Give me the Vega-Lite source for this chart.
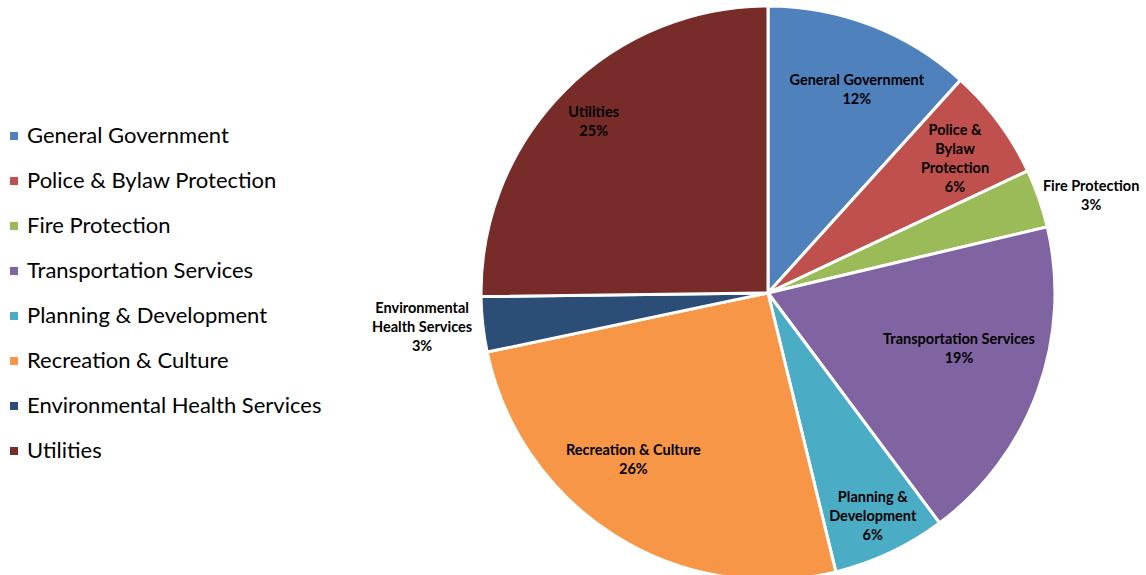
{
  "$schema": "https://vega.github.io/schema/vega-lite/v6.json",
  "width": 1146,
  "height": 575,
  "autosize": "none",
  "padding": 0,
  "background": "white",
  "config": {"view": {"stroke": null}, "text": {"font": "Lato", "fontWeight": "bold", "fontSize": 14.5, "lineBreak": "\n", "lineHeight": 19, "align": "center", "baseline": "middle", "color": "#000000"}},
  "data": {
    "values": [
      {"category": "General Government", "value": 11.7, "idx": 1, "label": "General Government\n12%"},
      {"category": "Police & Bylaw Protection", "value": 6.3, "idx": 2, "label": "Police &\nBylaw\nProtection\n6%"},
      {"category": "Fire Protection", "value": 3.3, "idx": 3, "label": "Fire Protection\n3%"},
      {"category": "Transportation Services", "value": 18.5, "idx": 4, "label": "Transportation Services\n19%"},
      {"category": "Planning & Development", "value": 6.4, "idx": 5, "label": "Planning &\nDevelopment\n6%"},
      {"category": "Recreation & Culture", "value": 25.5, "idx": 6, "label": "Recreation & Culture\n26%"},
      {"category": "Environmental Health Services", "value": 3.1, "idx": 7, "label": "Environmental\nHealth Services\n3%"},
      {"category": "Utilities", "value": 25.2, "idx": 8, "label": "Utilities\n25%"}
    ]
  },
  "encoding": {
    "theta": {"field": "value", "type": "quantitative", "stack": true},
    "order": {"field": "idx", "type": "quantitative"}
  },
  "layer": [
    {
      "mark": {"type": "arc", "x": 768, "y": 293, "outerRadius": 287, "stroke": "white", "strokeWidth": 3},
      "encoding": {
        "color": {
          "field": "category",
          "type": "nominal",
          "sort": ["General Government", "Police & Bylaw Protection", "Fire Protection", "Transportation Services", "Planning & Development", "Recreation & Culture", "Environmental Health Services", "Utilities"],
          "scale": {
            "domain": ["General Government", "Police & Bylaw Protection", "Fire Protection", "Transportation Services", "Planning & Development", "Recreation & Culture", "Environmental Health Services", "Utilities"],
            "range": ["#4F81BD", "#C0504D", "#9BBB59", "#8064A2", "#4BACC6", "#F79646", "#2C4D75", "#772C2A"]
          },
          "legend": {
            "orient": "none",
            "legendX": 3,
            "legendY": 125,
            "title": null,
            "symbolType": "square",
            "symbolSize": 64,
            "symbolStrokeWidth": 0,
            "labelFont": "Lato",
            "labelFontSize": 22,
            "labelColor": "#000000",
            "labelOffset": 2,
            "rowPadding": 23,
            "labelLimit": 400
          }
        }
      }
    },
    {
      "mark": {"type": "text", "x": 768, "y": 293, "radius": 222, "dx": 9, "dy": -5},
      "encoding": {"text": {"condition": {"test": "datum.idx === 1", "field": "label"}, "value": ""}}
    },
    {
      "mark": {"type": "text", "x": 768, "y": 293, "radius": 229, "dx": 3, "dy": -26},
      "encoding": {"text": {"condition": {"test": "datum.idx === 2", "field": "label"}, "value": ""}}
    },
    {
      "mark": {"type": "text", "x": 768, "y": 293, "radius": 337, "dx": 5, "dy": 5},
      "encoding": {"text": {"condition": {"test": "datum.idx === 3", "field": "label"}, "value": ""}}
    },
    {
      "mark": {"type": "text", "x": 768, "y": 293, "radius": 199, "dx": 4, "dy": -21},
      "encoding": {"text": {"condition": {"test": "datum.idx === 4", "field": "label"}, "value": ""}}
    },
    {
      "mark": {"type": "text", "x": 768, "y": 293, "radius": 246, "dx": 0, "dy": -18},
      "encoding": {"text": {"condition": {"test": "datum.idx === 5", "field": "label"}, "value": ""}}
    },
    {
      "mark": {"type": "text", "x": 768, "y": 293, "radius": 215, "dx": -20, "dy": -24},
      "encoding": {"text": {"condition": {"test": "datum.idx === 6", "field": "label"}, "value": ""}}
    },
    {
      "mark": {"type": "text", "x": 768, "y": 293, "radius": 347, "dx": -1, "dy": -22},
      "encoding": {"text": {"condition": {"test": "datum.idx === 7", "field": "label"}, "value": ""}}
    },
    {
      "mark": {"type": "text", "x": 768, "y": 293, "radius": 245, "dx": 0, "dy": -8},
      "encoding": {"text": {"condition": {"test": "datum.idx === 8", "field": "label"}, "value": ""}}
    }
  ]
}
